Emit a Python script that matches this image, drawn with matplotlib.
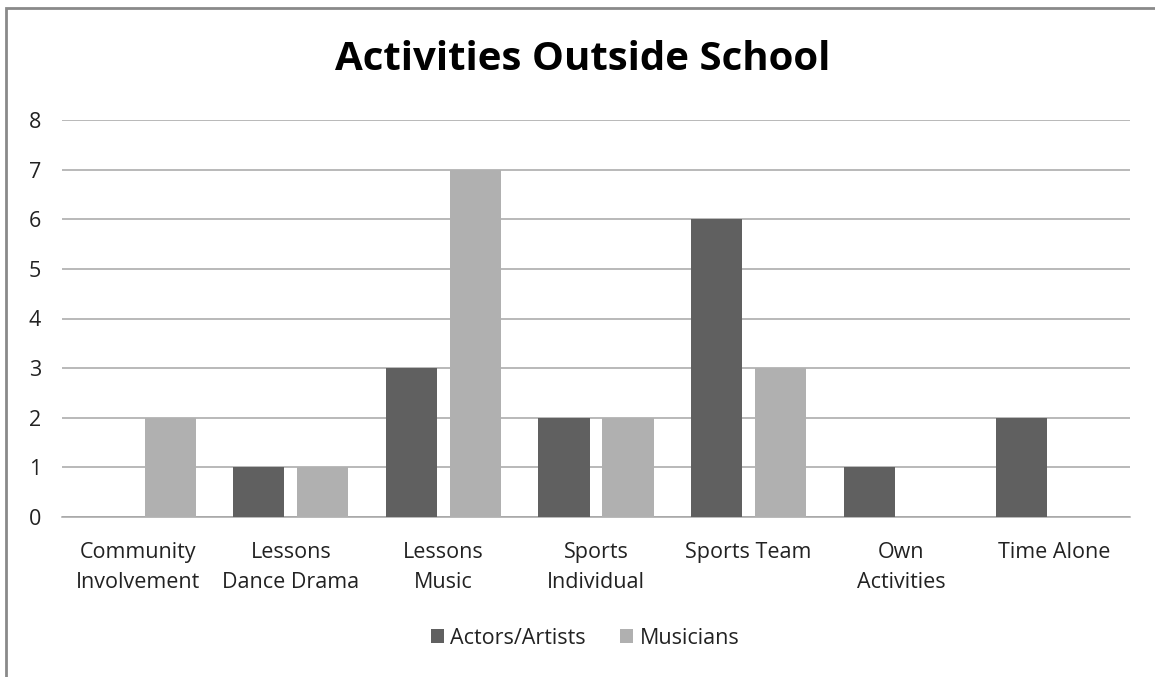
import matplotlib
matplotlib.use("Agg")
import matplotlib.pyplot as plt
from matplotlib.patches import Rectangle
import numpy as np

plt.rcParams['font.family'] = ['Open Sans', 'DejaVu Sans']

categories = ["Community\nInvolvement", "Lessons\nDance Drama", "Lessons\nMusic",
              "Sports\nIndividual", "Sports Team", "Own\nActivities", "Time Alone"]
actors = [0, 1, 3, 2, 6, 1, 2]
musicians = [2, 1, 7, 2, 3, 0, 0]
yticks = [0, 1, 2, 3, 4, 5, 6, 7, 8]

W, H = 1155, 677
fig = plt.figure(figsize=(W / 100, H / 100), dpi=100)
ax = fig.add_axes([62 / W, 1 - 517 / H, (1130 - 62) / W, (517 - 120) / H])

x = np.arange(len(categories))
bw = 0.335
ax.bar(x - 0.21, actors, bw, color="#606060", label="Actors/Artists", zorder=3)
ax.bar(x + 0.21, musicians, bw, color="#b0b0b0", label="Musicians", zorder=3)

ax.set_xlim(-0.5, len(categories) - 0.5)
ax.set_ylim(0, 8)
ax.set_yticks(yticks)
ax.set_xticks(x)
ax.set_xticklabels(categories, fontsize=15.5, color="#222222", linespacing=1.55)
ax.tick_params(axis="y", length=0, pad=15, labelsize=15.5, labelcolor="#222222")
ax.tick_params(axis="x", length=0, pad=18)
ax.grid(axis="y", color="#a6a6a6", linewidth=1.1, zorder=0)
for s in ["top", "right", "left"]:
    ax.spines[s].set_visible(False)
ax.spines["bottom"].set_color("#a6a6a6")
ax.spines["bottom"].set_linewidth(1.1)

fig.text(583 / W, 1 - 60 / H, "Activities Outside School", ha="center", va="center",
         fontsize=29, fontweight="bold", color="#000000")

fig.legend(loc="center", bbox_to_anchor=(585 / W, 1 - 638 / H), ncol=2, frameon=False,
           fontsize=15.5, handlelength=0.6, handleheight=0.6, handletextpad=0.3,
           columnspacing=1.6, labelcolor="#222222")

fig.patches.append(Rectangle((6 / W, -0.1), 1.2, 1 - 8 / H + 0.1, transform=fig.transFigure,
                             fill=False, edgecolor="#8a8a8a", linewidth=2))

fig.savefig("out.png", dpi=100)
